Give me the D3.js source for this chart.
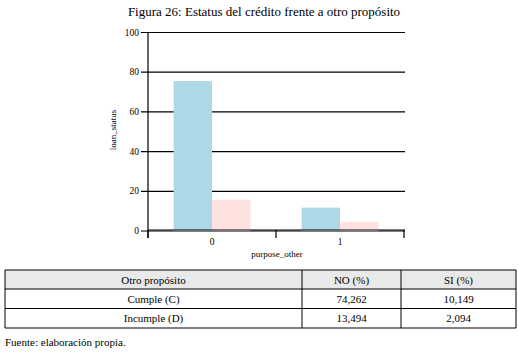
<!DOCTYPE html>
<html><head><meta charset="utf-8">
<script src="https://cdn.jsdelivr.net/npm/d3@7"></script>
<style>
body{margin:0;background:#fff;}
</style></head>
<body><svg id="c" width="518" height="352" font-family="Liberation Serif, serif"></svg>
<script>
const title = "Figura 26: Estatus del crédito frente a otro propósito";
const categories = ["0", "1"];
const seriesNames = ["Cumple", "Incumple"];
const seriesValues = [[75.3, 11.5], [15.5, 4.4]];
const seriesColors = ["#add8e6", "#fde2df"];
const yTicks = [0, 20, 40, 60, 80, 100];
const xLabel = "purpose_other";
const yLabel = "loan_status";
const tableHeader = ["Otro propósito", "NO (%)", "SI (%)"];
const tableRows = [["Cumple (C)", "74,262", "10,149"], ["Incumple (D)", "13,494", "2,094"]];
const footer = "Fuente: elaboración propia.";
const FF = "Liberation Serif, serif";

const svg = d3.select("#c");
svg.append("text").attr("x", 264).attr("y", 16).attr("text-anchor", "middle")
  .attr("font-family", FF).attr("font-size", 13).text(title);

const x0 = d3.scaleBand().domain(categories).range([148, 404]).paddingInner(0.4).paddingOuter(0.2);
const x1 = d3.scaleBand().domain(seriesNames).range([0, x0.bandwidth()]);
const y = d3.scaleLinear().domain([0, 100]).range([230.5, 32]);

// gridlines + y ticks
const yAxis = svg.append("g").attr("transform", "translate(148,0)")
  .call(d3.axisLeft(y).tickValues(yTicks).tickSize(7).tickPadding(2));
yAxis.attr("font-family", FF).attr("font-size", 9.5);
yAxis.select(".domain").remove();
yAxis.selectAll(".tick line").attr("stroke", "#000").attr("x2", 257).attr("x1", -7).attr("stroke-width", 1.2);

// bars
const data = [];
categories.forEach((c, i) => seriesNames.forEach((s, j) => data.push({c, s, v: seriesValues[j][i], j})));
svg.append("g").selectAll("rect").data(data).join("rect")
  .attr("x", d => x0(d.c) + x1(d.s))
  .attr("width", x1.bandwidth())
  .attr("y", d => y(d.v))
  .attr("height", d => y(0) - y(d.v) + 0.5)
  .attr("fill", d => seriesColors[d.j]);

// axis lines
svg.append("line").attr("x1", 148).attr("x2", 148).attr("y1", 32).attr("y2", 238).attr("stroke", "#000").attr("stroke-width", 1.2);
svg.append("line").attr("x1", 148).attr("x2", 405).attr("y1", 230).attr("y2", 230).attr("stroke", "#000").attr("stroke-width", 1.2);
const bounds = [x0.range()[0], x0.range()[0] + x0.step() * 1, x0.range()[1]];
svg.selectAll(".bt").data(bounds).join("line").attr("class", "bt")
  .attr("x1", d => d).attr("x2", d => d).attr("y1", 230).attr("y2", 238)
  .attr("stroke", "#000").attr("stroke-width", 1.2);
svg.selectAll(".xl").data(categories).join("text").attr("class", "xl")
  .attr("x", d => x0(d) + x0.bandwidth() / 2).attr("y", 245)
  .attr("text-anchor", "middle").attr("font-family", FF).attr("font-size", 9.5).text(d => d);
svg.append("text").attr("x", 277).attr("y", 257).attr("text-anchor", "middle")
  .attr("font-family", FF).attr("font-size", 9).text(xLabel);
svg.append("text").attr("transform", "translate(116,130) rotate(-90)").attr("text-anchor", "middle")
  .attr("font-family", FF).attr("font-size", 9).text(yLabel);

// table
const colX = [5, 302, 401, 516];
const rowY = [270, 289, 308.5, 328];
svg.append("rect").attr("x", colX[0]).attr("y", rowY[0]).attr("width", colX[3] - colX[0]).attr("height", rowY[1] - rowY[0]).attr("fill", "#e9e9e9");
const rows = [tableHeader, ...tableRows];
rows.forEach((r, ri) => {
  r.forEach((t, ci) => {
    svg.append("text").attr("x", (colX[ci] + colX[ci + 1]) / 2).attr("y", (rowY[ri] + rowY[ri + 1]) / 2 + 4)
      .attr("text-anchor", "middle").attr("font-family", FF).attr("font-size", 11).text(t);
  });
});
rowY.forEach(yy => svg.append("line").attr("x1", colX[0]).attr("x2", colX[3]).attr("y1", yy).attr("y2", yy).attr("stroke", "#000").attr("stroke-width", 1));
colX.forEach(xx => svg.append("line").attr("x1", xx).attr("x2", xx).attr("y1", rowY[0]).attr("y2", rowY[3]).attr("stroke", "#000").attr("stroke-width", 1));
svg.append("text").attr("x", 5).attr("y", 346).attr("font-family", FF).attr("font-size", 11).text(footer);
</script></body></html>
